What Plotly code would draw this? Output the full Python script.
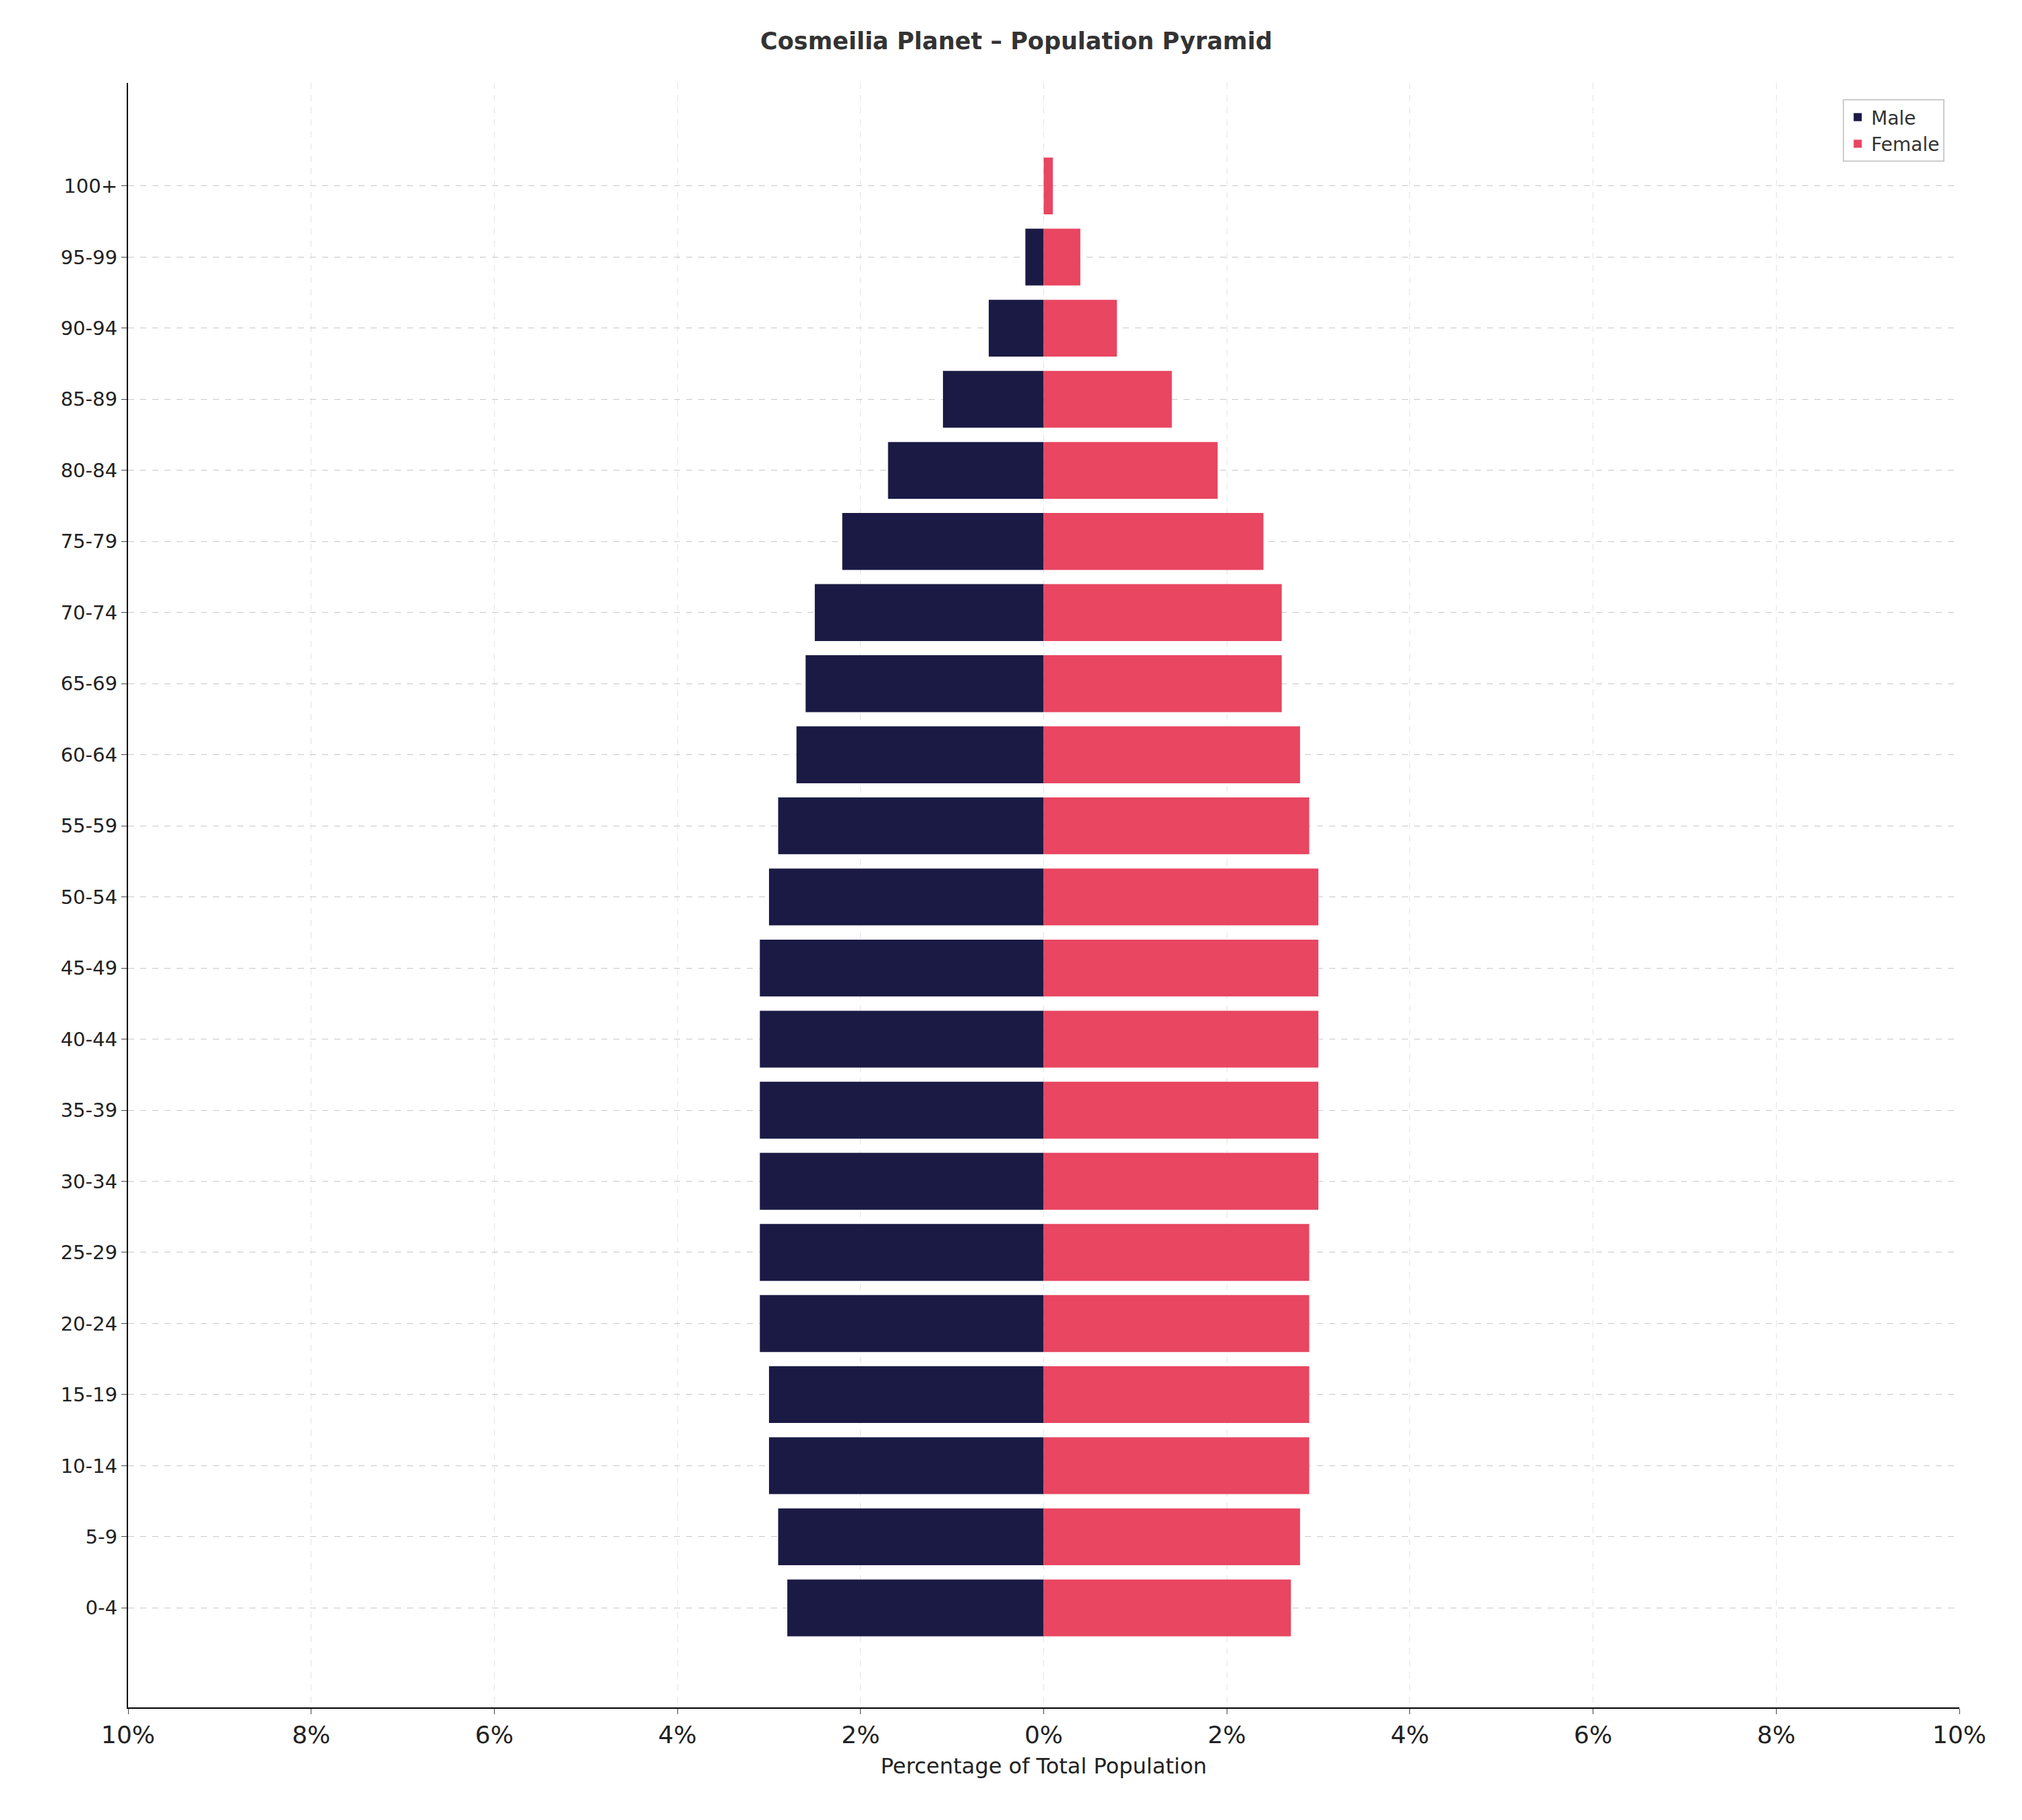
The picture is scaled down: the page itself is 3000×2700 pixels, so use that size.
import plotly.graph_objects as go

ages = ["0-4", "5-9", "10-14", "15-19", "20-24", "25-29", "30-34", "35-39", "40-44", "45-49",
        "50-54", "55-59", "60-64", "65-69", "70-74", "75-79", "80-84", "85-89", "90-94", "95-99", "100+"]
male = [2.8, 2.9, 3.0, 3.0, 3.1, 3.1, 3.1, 3.1, 3.1, 3.1,
        3.0, 2.9, 2.7, 2.6, 2.5, 2.2, 1.7, 1.1, 0.6, 0.2, 0.0]
female = [2.7, 2.8, 2.9, 2.9, 2.9, 2.9, 3.0, 3.0, 3.0, 3.0,
          3.0, 2.9, 2.8, 2.6, 2.6, 2.4, 1.9, 1.4, 0.8, 0.4, 0.1]
tick_vals = [-10, -8, -6, -4, -2, 0, 2, 4, 6, 8, 10]
tick_text = ["10%", "8%", "6%", "4%", "2%", "0%", "2%", "4%", "6%", "8%", "10%"]

idx = list(range(len(ages)))

fig = go.Figure()
fig.add_trace(go.Bar(y=idx, x=[-m for m in male], orientation="h", name="Male",
                     marker=dict(color="#1b1a45", line_width=0), width=0.8))
fig.add_trace(go.Bar(y=idx, x=female, orientation="h", name="Female",
                     marker=dict(color="#e84661", line_width=0), width=0.8))

fig.update_layout(
    width=3000, height=2700, barmode="overlay",
    plot_bgcolor="white", paper_bgcolor="white",
    font=dict(family="DejaVu Sans", color="#222", size=27),
    title=dict(text="<b>Cosmeilia Planet – Population Pyramid</b>", x=0.5, xanchor="center",
               y=0.985, font=dict(size=35, color="#333")),
    margin=dict(l=182, r=101, t=115, b=175),
    legend=dict(x=0.992, y=0.99, xanchor="right", yanchor="top", bordercolor="#ccc",
                borderwidth=2, bgcolor="white", font=dict(size=28, color="#333")),
    xaxis=dict(range=[-10, 10], tickvals=tick_vals, ticktext=tick_text, tickfont=dict(size=36),
               title=dict(text="Percentage of Total Population", font=dict(size=32), standoff=15),
               showgrid=True, gridcolor="#e3e3e3", griddash="dash", zeroline=False,
               showline=True, linecolor="black", linewidth=2, ticks="outside", ticklen=8),
    yaxis=dict(range=[-1.4, 21.45], tickvals=idx, ticktext=ages, tickfont=dict(size=29),
               showgrid=True, gridcolor="#c8c8c8", griddash="dash", zeroline=False,
               showline=True, linecolor="black", linewidth=2, ticks="outside", ticklen=8),
)

fig.write_html("out.html")
